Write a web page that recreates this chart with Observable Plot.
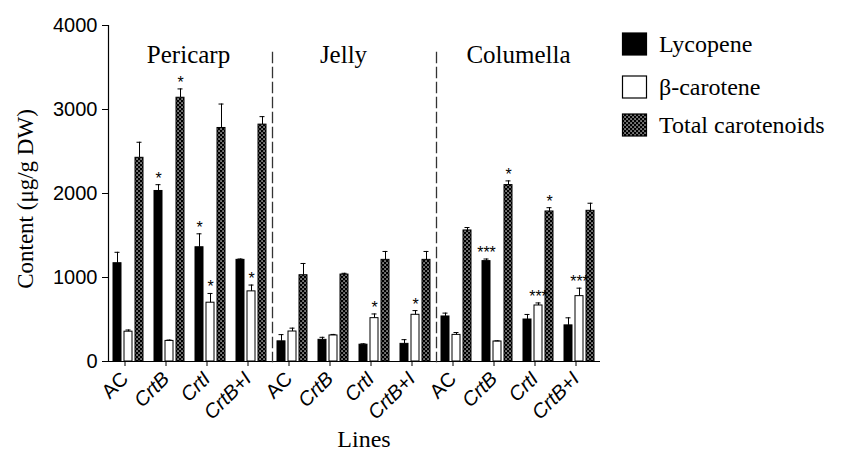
<!DOCTYPE html>
<html>
<head>
<meta charset="utf-8">
<script src="https://cdn.jsdelivr.net/npm/d3@7"></script>
<script src="https://cdn.jsdelivr.net/npm/@observablehq/plot@0.6"></script>
<style>
  html, body { margin: 0; padding: 0; background: #fff; }
  #wrap { position: relative; width: 842px; height: 455px; }
  #overlay { position: absolute; left: 0; top: 0; pointer-events: none; }
</style>
</head>
<body>
<div id="wrap"></div>
<script>
// ---- data ----
const tissues = ["Pericarp", "Jelly", "Columella"];
const lines = ["AC", "CrtB", "CrtI", "CrtB+I"];
const series = ["Lycopene", "β-carotene", "Total carotenoids"];
const yTicks = [0, 1000, 2000, 3000, 4000];

// order: Pericarp AC, CrtB, CrtI, CrtB+I, Jelly ..., Columella ...
const lycopene    = [1170, 2030, 1360, 1210,  240,  258,  200,  210,  536, 1195,  500,  430];
const lycopeneErr = [ 130,   75,  160,   10,   80,   30,   10,   50,   40,   25,   60,   90];
const beta        = [ 355,  245,  700,  835,  357,  310,  516,  556,  317,  238,  667,  778];
const betaErr     = [  20,   10,  110,   75,   40,   12,   50,   50,   28,    8,   30,   95];
const total       = [2425, 3140, 2780, 2820, 1027, 1035, 1210, 1210, 1560, 2100, 1786, 1794];
const totalErr    = [ 185,  105,  285,   95,  140,   15,  100,  100,   35,   50,   45,   90];
const lycopeneSig = ["", "*", "*", "", "", "", "", "", "", "***", "", ""];
const betaSig     = ["", "", "*", "*", "", "", "*", "*", "", "", "***", "***"];
const totalSig    = ["", "*", "", "", "", "", "", "", "", "*", "*", ""];

// ---- table ----
const keys = tissues.flatMap(t => lines.map(l => `${t}|${l}`));
const vals = [lycopene, beta, total], errs = [lycopeneErr, betaErr, totalErr], sigs = [lycopeneSig, betaSig, totalSig];
const rows = [];
keys.forEach((key, i) => {
  series.forEach((s, j) => {
    rows.push({key, series: s, value: vals[j][i], err: errs[j][i], sig: sigs[j][i]});
  });
});
const sepKeys = [keys[3], keys[7]];

const serif = "Liberation Serif, Times New Roman, serif";
const sans = "Liberation Sans, Arial, sans-serif";
const tissueLabelDx = [-2, -11, 0]; // style nudges for the tissue titles

const plot = Plot.plot({
  width: 842,
  height: 455,
  marginLeft: 102,
  marginRight: 237,
  marginTop: 25,
  marginBottom: 94,
  style: {fontFamily: sans, background: "white"},
  fx: {domain: keys, padding: 0, label: null},
  x: {domain: series, paddingInner: 0.25, paddingOuter: 0.47, axis: null},
  y: {domain: [0, 4000], label: null},
  color: {domain: series, range: ["black", "white", "url(#checker)"]},
  marks: [
    Plot.barY(rows, {fx: "key", x: "series", y: "value", fill: "series", stroke: "black", strokeWidth: 1}),
    Plot.ruleX(rows, {fx: "key", x: "series", y1: "value", y2: d => d.value + d.err, stroke: "black", strokeWidth: 1}),
    Plot.tickY(rows, {fx: "key", x: "series", y: d => d.value + d.err, insetLeft: 1.5, insetRight: 1.5, stroke: "black", strokeWidth: 1}),
    Plot.text(rows.filter(d => d.sig), {fx: "key", x: "series", y: d => d.value + d.err, text: "sig", lineAnchor: "bottom", dy: -1, fontSize: 16, fontFamily: sans}),
    Plot.ruleY([0], {stroke: "black", strokeWidth: 1.2}),
    Plot.frame({anchor: "left", facetAnchor: "left", stroke: "black", strokeWidth: 1.2}),
    ...sepKeys.map(k => Plot.frame({anchor: "right", fx: () => k, insetTop: 27, stroke: "#333", strokeWidth: 1.3, strokeDasharray: "10,5"})),
    ...tissues.map((t, i) => Plot.text([t], {fx: () => `${t}|CrtB`, text: d => d, frameAnchor: "top-right", textAnchor: "middle", lineAnchor: "bottom", dy: 37, dx: tissueLabelDx[i], fontSize: 25, fontFamily: serif})),
    Plot.axisY({ticks: yTicks, tickSize: 6, tickPadding: 5, fontSize: 20, tickFormat: d => String(d), label: null, fontFamily: sans}),
    Plot.axisFx({anchor: "bottom", tickRotate: -45, tickSize: 5, tickPadding: 9, dx: -4, fontSize: 20, fontFamily: sans, tickFormat: k => k.split("|")[1], label: null})
  ]
});

// pattern for total carotenoids
const ns = "http://www.w3.org/2000/svg";
const defs = document.createElementNS(ns, "defs");
defs.innerHTML = `<pattern id="checker" patternUnits="userSpaceOnUse" width="4" height="4">
  <rect width="4" height="4" fill="black"/>
  <rect x="0.4" y="0.4" width="1.3" height="1.3" fill="white"/>
  <rect x="2.4" y="2.4" width="1.3" height="1.3" fill="white"/>
</pattern>`;
plot.insertBefore(defs, plot.firstChild);

// italic gene names on fx tick labels
plot.querySelectorAll('g[aria-label="fx-axis tick label"] text').forEach(t => {
  if (t.textContent.trim() !== "AC") t.setAttribute("font-style", "italic");
});

document.getElementById("wrap").appendChild(plot);

// overlay: axis titles and legend
const ov = d3.select("#wrap").append("svg").attr("id", "overlay").attr("width", 842).attr("height", 455);
ov.append("text").attr("transform", "translate(33,199) rotate(-90)").attr("text-anchor", "middle")
  .attr("font-family", serif).attr("font-size", 23).text("Content (μg/g DW)");
ov.append("text").attr("x", 364).attr("y", 447).attr("text-anchor", "middle")
  .attr("font-family", serif).attr("font-size", 24).text("Lines");
const legendFill = ["black", "white", "url(#checker)"];
const legendTop = [33, 76, 114];
series.forEach((s, i) => {
  ov.append("rect").attr("x", 622.5).attr("y", legendTop[i]).attr("width", 24).attr("height", 22)
    .attr("fill", legendFill[i]).attr("stroke", "black").attr("stroke-width", 1.2);
  ov.append("text").attr("x", 659).attr("y", legendTop[i] + 19).attr("font-family", serif)
    .attr("font-size", 24).text(s);
});
</script>
</body>
</html>
